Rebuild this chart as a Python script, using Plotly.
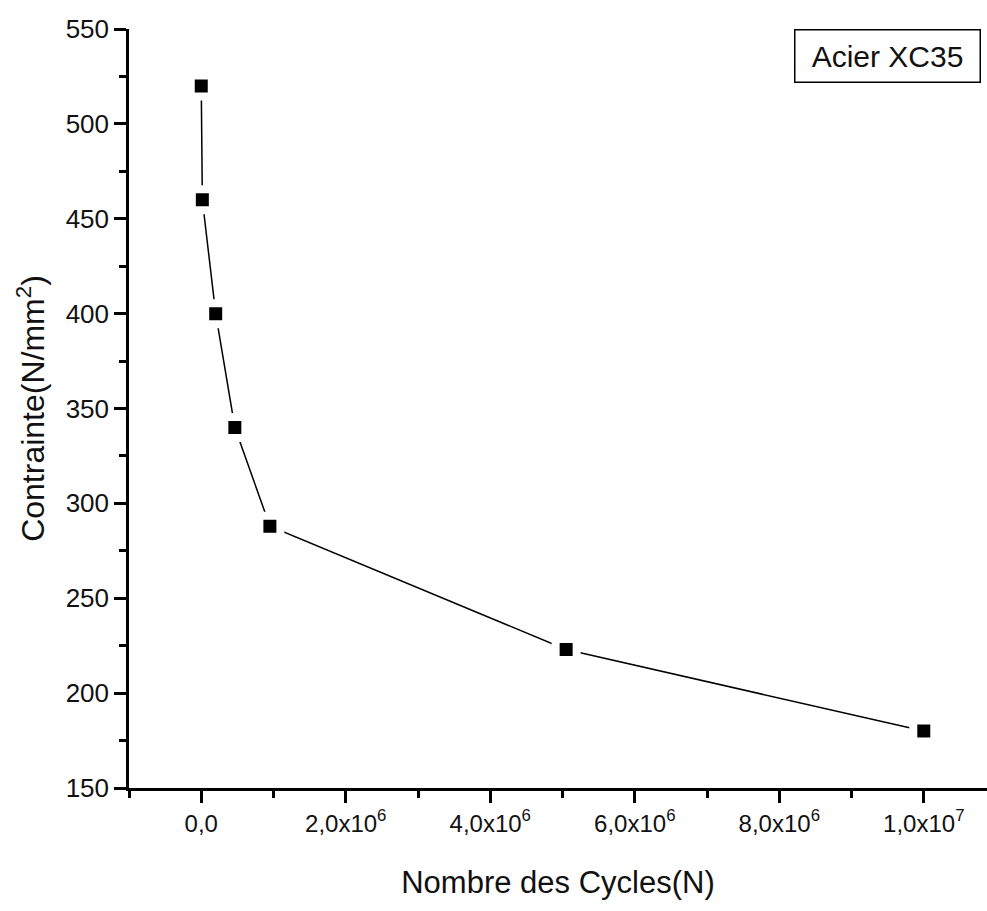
import plotly.graph_objects as go

# Data
cycles = [0, 1.5e4, 2.0e5, 4.65e5, 9.5e5, 5.05e6, 1.0e7]
stress = [520, 460, 400, 340, 288, 223, 180]

x_tick_vals = [0, 2e6, 4e6, 6e6, 8e6, 1e7]
x_tick_text = ["0,0", "2,0x10<sup>6</sup>", "4,0x10<sup>6</sup>", "6,0x10<sup>6</sup>",
               "8,0x10<sup>6</sup>", "1,0x10<sup>7</sup>"]
y_tick_vals = [150, 200, 250, 300, 350, 400, 450, 500, 550]

x_title = "Nombre des Cycles(N)"
y_title = "Contrainte(N/mm<sup>2</sup>)"
legend_text = "Acier XC35"

FONT = "Liberation Sans, Arial, sans-serif"
INK = "#111111"

fig = go.Figure()
fig.add_trace(go.Scatter(
    x=cycles, y=stress, mode="lines+markers",
    line=dict(color="black", width=1.5),
    marker=dict(symbol="square", size=21, color="black",
                line=dict(color="white", width=8)),
    showlegend=False, cliponaxis=False,
))

fig.update_layout(
    width=987, height=911,
    margin=dict(l=129, r=0, t=29, b=123, autoexpand=False),
    paper_bgcolor="white", plot_bgcolor="white",
    font=dict(family=FONT, color=INK),
)

fig.update_xaxes(
    range=[-1e6, 1.0875e7],
    showgrid=False, zeroline=False,
    showline=True, linecolor="black", linewidth=2.5,
    ticks="outside", ticklen=12, tickwidth=3, tickcolor="black",
    tickmode="array", tickvals=x_tick_vals, ticktext=x_tick_text,
    tickfont=dict(size=24, family=FONT, color=INK),
    minor=dict(ticks="outside", ticklen=7, tickwidth=3, tickcolor="black", dtick=1e6, tick0=0, showgrid=False),
    title=dict(text=x_title, font=dict(size=31, family=FONT, color=INK), standoff=36),
)
fig.update_yaxes(
    range=[150, 550],
    showgrid=False, zeroline=False,
    showline=True, linecolor="black", linewidth=2.5,
    ticks="outside", ticklen=12, tickwidth=3, tickcolor="black",
    tickmode="array", tickvals=y_tick_vals,
    tickfont=dict(size=26, family=FONT, color=INK),
    minor=dict(ticks="outside", ticklen=7, tickwidth=3, tickcolor="black", dtick=25, tick0=150, showgrid=False),
    title=dict(text=y_title, font=dict(size=32, family=FONT, color=INK), standoff=12),
)

fig.add_annotation(
    xref="paper", yref="paper", x=(887 - 129) / 858, y=(788 - 56) / 759,
    xanchor="center", yanchor="middle",
    text=legend_text, showarrow=False, width=166,
    font=dict(size=30, family=FONT, color=INK),
    bgcolor="white", bordercolor="black", borderwidth=1.5, borderpad=9,
)

fig.write_html("out.html")
